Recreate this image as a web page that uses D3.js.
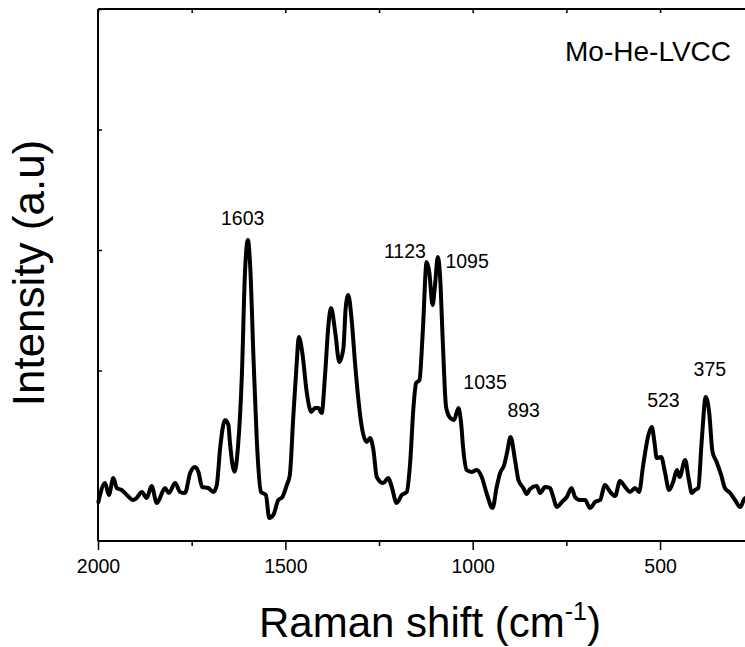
<!DOCTYPE html>
<html><head><meta charset="utf-8">
<script src="https://cdn.jsdelivr.net/npm/d3@7"></script>
<style>html,body{margin:0;padding:0;background:#fff;overflow:hidden}</style>
</head><body>
<svg id="c" width="745" height="647"></svg>
<script>
// Raman shift (cm-1)
const wavenumbers = [1999,1981,1971,1959,1950,1937,1923,1906,1897,1883,1870,1857,1843,1821,1811,1794,1781,1768,1754,1741,1732,1722,1706,1692,1683,1674,1661,1652,1648,1636,1626,1616,1608,1600,1594,1585,1576,1565,1552,1543,1532,1519,1508,1496,1488,1479,1470,1464,1455,1443,1431,1421,1412,1403,1394,1385,1378,1367,1356,1345,1339,1332,1323,1314,1305,1296,1283,1274,1265,1256,1239,1225,1216,1203,1189,1176,1167,1158,1151,1142,1133,1123,1116,1107,1101,1093,1087,1080,1071,1060,1050,1038,1031,1025,1016,1003,989,976,963,947,936,927,916,908,899,887,878,865,856,847,829,820,807,794,785,776,762,749,736,727,714,700,687,673,660,647,633,620,607,593,580,567,556,545,531,522,515,509,497,487,476,465,455,448,433,424,415,407,398,389,378,369,360,349,337,327,313,300,286,273,262];
// Intensity (a.u)
const intensities = [909,1066,967,1108,1025,1008,967,925,942,992,942,1041,900,1025,983,1066,992,983,1149,1199,1158,1033,1025,992,1050,1357,1589,1548,1407,1160,1382,1963,2793,3083,2876,2104,1407,992,967,776,801,925,950,1050,1133,1606,2046,2278,2154,1822,1656,1689,1689,1647,1963,2378,2519,2320,2071,2187,2519,2627,2419,2062,1755,1531,1407,1440,1340,1116,1066,1108,1033,900,967,992,1232,1697,1896,1921,2336,2900,2818,2544,2693,2942,2776,2253,1697,1606,1589,1689,1564,1340,1174,1158,1174,1116,983,859,1033,1149,1216,1324,1448,1257,1091,1025,975,1017,1041,983,1033,1025,950,867,909,950,1025,950,925,925,859,909,925,1050,992,958,1083,1033,992,1025,992,1216,1465,1531,1407,1274,1282,1158,1008,1075,1174,1116,1257,1108,983,1008,1025,1407,1780,1656,1324,1241,1133,1025,983,925,867,942,930];

const xMajorTicks = [2000,1500,1000,500];
const xMinorTicks = [1750,1250,750,250];
const yTicks = [1000,2000,3000,4000,5000];

const peakLabels = ["1603","1123","1095","1035","893","523","375"];
const peakLabelWn = [1614,1181,1015,967,864,491,367];
const peakLabelI = [3208,2934,2851,1846,1614,1697,1954];

const sampleName = "Mo-He-LVCC";
const xTitle = "Raman shift (cm";
const xTitleSup = "-1";
const yTitle = "Intensity (a.u)";

const svg = d3.select("#c");
const FONT = "'Liberation Sans', Arial, Helvetica, sans-serif";
const mLeft = 98, mTop = 9, mBottom = 541;
const x = d3.scaleLinear().domain([2000, 200]).range([mLeft, mLeft + 1800 * 0.3747]);
const y = d3.scaleLinear().domain([585, 5000]).range([mBottom, mTop]);

// curve
const n = Math.min(wavenumbers.length, intensities.length);
const pts = d3.range(n).map(i => [wavenumbers[i], intensities[i]]);
const line = d3.line().x(d => x(d[0])).y(d => y(d[1])).curve(d3.curveMonotoneX);
svg.append("path").datum(pts).attr("d", line)
  .attr("fill", "none").attr("stroke", "#000").attr("stroke-width", 4)
  .attr("stroke-linejoin", "round").attr("stroke-linecap", "round");

// bottom axis: major ticks
const gB = svg.append("g").attr("transform", `translate(0,${mBottom})`);
gB.call(d3.axisBottom(x).tickValues(xMajorTicks).tickSize(9).tickPadding(9).tickFormat(d3.format("d")));
const gBm = svg.append("g").attr("transform", `translate(0,${mBottom})`);
gBm.call(d3.axisBottom(x).tickValues(xMinorTicks).tickSize(5).tickFormat(""));
gBm.select(".domain").remove();

// top axis: inward ticks
const gT = svg.append("g").attr("transform", `translate(0,${mTop})`);
gT.call(d3.axisBottom(x).tickValues(xMajorTicks.concat(xMinorTicks)).tickSize(4).tickFormat(""));

// left axis: inward ticks, no labels
const gL = svg.append("g").attr("transform", `translate(${mLeft},0)`);
gL.call(d3.axisRight(y).tickValues(yTicks).tickSize(4).tickFormat(""));

[gB, gBm, gT, gL].forEach(g => {
  g.selectAll(".domain").attr("stroke", "#000").attr("stroke-width", 2);
  g.selectAll(".tick line").attr("stroke", "#000").attr("stroke-width", 1.5);
  g.selectAll(".tick text").attr("font-family", FONT).attr("font-size", 19.5).attr("fill", "#000");
});
gT.select(".domain").attr("d", `M${mLeft},0H745`);
gB.select(".domain").attr("d", `M${mLeft},0H745`);
gL.select(".domain").attr("d", `M0,${mTop}V${mBottom}`);

// peak labels
svg.append("g").selectAll("text").data(peakLabels).join("text")
  .attr("x", (d, i) => x(peakLabelWn[i])).attr("y", (d, i) => y(peakLabelI[i]))
  .attr("text-anchor", "middle").attr("font-family", FONT).attr("font-size", 19.5)
  .attr("fill", "#000").text(d => d);

// sample name
svg.append("text").attr("x", 731).attr("y", 61).attr("text-anchor", "end")
  .attr("font-family", FONT).attr("font-size", 28).attr("fill", "#000").text(sampleName);

// x title
const xt = svg.append("text").attr("x", 430).attr("y", 637).attr("text-anchor", "middle")
  .attr("font-family", FONT).attr("font-size", 42).attr("fill", "#000");
xt.append("tspan").text(xTitle);
xt.append("tspan").attr("font-size", 25).attr("dy", -17).text(xTitleSup);
xt.append("tspan").attr("dy", 17).text(")");

// y title
svg.append("text").attr("transform", `translate(44,273) rotate(-90)`)
  .attr("text-anchor", "middle").attr("font-family", FONT).attr("font-size", 44)
  .attr("fill", "#000").text(yTitle);
</script>
</body></html>
